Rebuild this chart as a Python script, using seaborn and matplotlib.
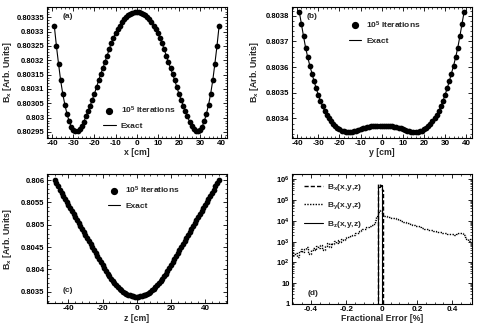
import numpy as np
import pandas as pd
import matplotlib
matplotlib.use("Agg")
import matplotlib.pyplot as plt
import seaborn as sns
from matplotlib.lines import Line2D
from matplotlib.ticker import MultipleLocator, FuncFormatter, LogLocator, NullFormatter

# ------------------------------------------------------------
# Data (curves are symmetric, so only
# the half >= 0 is listed and then mirrored)
# ------------------------------------------------------------
pos_ab = list(range(0, 40))          # cm
bx_scan_x = [0.803368, 0.803367, 0.803365, 0.803362, 0.803358, 0.803351, 0.803343,
             0.803333, 0.803321, 0.803309, 0.803295, 0.803279, 0.803260, 0.803239,
             0.803216, 0.803195, 0.803172, 0.803153, 0.803130, 0.803107, 0.803083,
             0.803063, 0.803042, 0.803024, 0.803005, 0.802986, 0.802970, 0.802959,
             0.802953, 0.802952, 0.802957, 0.802969, 0.802988, 0.803013, 0.803045,
             0.803083, 0.803130, 0.803188, 0.803250, 0.803320]
bx_scan_y = [0.803372, 0.803372, 0.803371, 0.803371, 0.803370, 0.803369, 0.803368,
             0.803366, 0.803364, 0.803362, 0.803359, 0.803356, 0.803353, 0.803350,
             0.803348, 0.803347, 0.803347, 0.803348, 0.803350, 0.803353, 0.803357,
             0.803362, 0.803370, 0.803379, 0.803390, 0.803401, 0.803414, 0.803430,
             0.803448, 0.803468, 0.803492, 0.803517, 0.803545, 0.803575, 0.803605,
             0.803638, 0.803675, 0.803720, 0.803768, 0.803815]
pos_c = list(range(0, 49))
bx_scan_z = [0.803390, 0.803392, 0.803397, 0.803406, 0.803418, 0.803434, 0.803453,
             0.803476, 0.803503, 0.803533, 0.803566, 0.803603, 0.803643, 0.803687,
             0.803735, 0.803786, 0.803841, 0.803899, 0.803960, 0.804025, 0.804090,
             0.804157, 0.804224, 0.804291, 0.804358, 0.804425, 0.804492, 0.804559,
             0.804626, 0.804693, 0.804760, 0.804827, 0.804894, 0.804961, 0.805028,
             0.805095, 0.805162, 0.805229, 0.805296, 0.805363, 0.805430, 0.805497,
             0.805564, 0.805631, 0.805710, 0.805785, 0.805860, 0.805935, 0.806010]

# fractional error histograms, bins of 0.01 % from -0.51 to 0.51
err_lo, err_hi, err_step = -0.51, 0.51, 0.01
by_counts = [380, 240, 300, 190, 350, 420, 310, 450, 560, 330, 260, 410, 520, 390,
             650, 480, 700, 520, 380, 610, 820, 560, 900, 760, 1050, 880, 1200,
             1000, 1300, 1250, 1500, 1700, 1650, 1950, 2100, 2200, 2500, 2700, 3100,
             3500, 3900, 4200, 4800, 5300, 5900, 6500, 7200, 11000, 17000, 26000,
             33000,
             19000, 17500, 16500, 15500, 15000, 14500, 13800, 13000, 12200, 11500,
             10800, 10000, 9300, 8600, 8000, 7500, 7000, 6500, 6100, 5700, 5400,
             5000, 4700, 4500, 4200, 4000, 3800, 3700, 3500, 3300, 3200, 3000, 2900,
             2850, 2700, 2600, 2500, 2450, 2350, 2300, 2250, 2200, 2300, 2500, 2700,
             2600, 2200, 1700, 1300, 1100, 1300]
bx_err_bins = [-0.015, -0.005, 0.005]
bx_err_counts = [580000, 500000, 320000]
bz_err_bins = [-0.015, -0.005]
bz_err_counts = [450000, 550000]


def mirror(pos, vals):
    xs = [-p for p in reversed(pos[1:])] + list(pos)
    ys = list(reversed(vals[1:])) + list(vals)
    return pd.DataFrame({"pos": xs, "B": ys})


sns.set_theme(style="ticks")
plt.rcParams.update({
    "font.family": ["Liberation Sans", "DejaVu Sans"],
    "font.weight": "bold",
    "font.size": 6,
    "mathtext.default": "regular",
    "axes.linewidth": 0.8,
    "xtick.direction": "in",
    "ytick.direction": "in",
    "xtick.top": True,
    "ytick.right": True,
    "xtick.major.size": 3.2,
    "ytick.major.size": 3.2,
    "xtick.minor.size": 1.6,
    "ytick.minor.size": 1.6,
    "xtick.major.width": 0.6,
    "ytick.major.width": 0.6,
    "xtick.minor.width": 0.5,
    "ytick.minor.width": 0.5,
    "xtick.major.pad": 1.5,
    "ytick.major.pad": 1.5,
    "xtick.labelsize": 5.8,
    "ytick.labelsize": 5.5,
    "axes.labelsize": 6.3,
    "axes.labelweight": "bold",
})

fig = plt.figure(figsize=(4.89, 3.31), dpi=100)
W, H = 489.0, 331.0


def add_axes(left, top, right, bottom):
    return fig.add_axes([left / W, 1 - bottom / H, (right - left) / W, (bottom - top) / H])


ax_a = add_axes(46.7, 7.3, 226.7, 137.7)
ax_b = add_axes(291.7, 7.3, 471.7, 137.7)
ax_c = add_axes(46.7, 174.3, 226.7, 303.3)
ax_d = add_axes(291.7, 174.3, 471.7, 304.0)

gfmt = FuncFormatter(lambda v, p: "{:g}".format(round(v, 7)))


def style(ax, xmaj, xmin, ymaj=None, ymin=None):
    ax.xaxis.set_major_locator(MultipleLocator(xmaj))
    ax.xaxis.set_minor_locator(MultipleLocator(xmin))
    if ymaj is not None:
        ax.yaxis.set_major_locator(MultipleLocator(ymaj))
        ax.yaxis.set_minor_locator(MultipleLocator(ymin))
        ax.yaxis.set_major_formatter(gfmt)
    ax.xaxis.set_major_formatter(gfmt)
    ax.tick_params(which="both", top=True, right=True, colors="black")
    for sp in ax.spines.values():
        sp.set_visible(True)
        sp.set_color("black")


point_handles = [Line2D([], [], marker="o", ls="none", color="black", markersize=4.2),
                 Line2D([], [], color="black", lw=0.8)]
point_labels = ["10$^5$ Iterations", "Exact"]


def scan_panel(ax, pos, vals, xlabel, xlim, ylim, tag, tag_xy, leg_xy, ylabel_x):
    df = mirror(pos, vals)
    sns.lineplot(data=df, x="pos", y="B", color="black", lw=0.8,
                 estimator=None, ax=ax)
    sns.scatterplot(data=df, x="pos", y="B", color="black", s=17,
                    linewidth=0, ax=ax, zorder=3)
    ax.set_xlim(*xlim)
    ax.set_ylim(*ylim)
    ax.set_xlabel(xlabel, labelpad=1)
    ax.set_ylabel("B$_x$ [Arb. Units]")
    # label coordinate is the right edge of the rotated text
    ax.yaxis.set_label_coords(ylabel_x, 0.5)
    ax.text(tag_xy[0], tag_xy[1], tag, transform=ax.transAxes,
            ha="center", va="center", fontsize=6)
    ax.legend(point_handles, point_labels, loc="upper left",
              bbox_to_anchor=leg_xy, frameon=False, borderpad=0,
              borderaxespad=0, handlelength=1.5, handletextpad=0.6,
              labelspacing=0.75, fontsize=6)


scan_panel(ax_a, pos_ab, bx_scan_x, "x [cm]", (-42.6, 42.6), (0.80293, 0.803385),
           "(a)", (0.118, 0.926), (0.313, 0.252), -0.184)
style(ax_a, 10, 2, 0.00005, 0.00001)

scan_panel(ax_b, pos_ab, bx_scan_y, "y [cm]", (-42.6, 42.6), (0.803325, 0.803833),
           "(b)", (0.111, 0.928), (0.318, 0.906), -0.172)
style(ax_b, 10, 2, 0.0001, 0.00002)

scan_panel(ax_c, pos_c, bx_scan_z, "z [cm]", (-52.7, 52.7), (0.80324, 0.806128),
           "(c)", (0.12, 0.103), (0.34, 0.919), -0.182)
style(ax_c, 20, 4, 0.0005, 0.0001)

# ---- panel (d): fractional error histograms ----
edges = [round(v, 3) for v in np.arange(err_lo, err_hi + err_step / 2, err_step)]
centers = [round((a + b) / 2, 4) for a, b in zip(edges[:-1], edges[1:])]
df_by = pd.DataFrame({"err": centers, "n": by_counts})
df_bx = pd.DataFrame({"err": bx_err_bins, "n": bx_err_counts})
df_bz = pd.DataFrame({"err": bz_err_bins, "n": bz_err_counts})

sns.histplot(data=df_by, x="err", weights="n", bins=edges, element="step", fill=False,
             color="black", linestyle=(0, (1, 1)), linewidth=1.0, ax=ax_d)
sns.histplot(data=df_bx, x="err", weights="n", bins=edges, element="step",
             fill=False, color="black", linestyle=(0, (3, 1.5)), linewidth=1.0, ax=ax_d)
sns.histplot(data=df_bz, x="err", weights="n", bins=edges, element="step",
             fill=False, color="black", linestyle="-", linewidth=0.8, ax=ax_d)
ax_d.set_yscale("log")
ax_d.set_xlim(err_lo, err_hi)
ax_d.set_ylim(1, 1.74e6)
style(ax_d, 0.2, 0.05)
ax_d.yaxis.set_major_locator(LogLocator(base=10, numticks=10))
ax_d.yaxis.set_minor_locator(LogLocator(base=10, subs=np.arange(2, 10), numticks=20))
ax_d.yaxis.set_minor_formatter(NullFormatter())


def log_label(v, p):
    e = int(round(np.log10(v)))
    if e == 0:
        return "1"
    if e == 1:
        return "10"
    return "10$^{%d}$" % e


ax_d.yaxis.set_major_formatter(FuncFormatter(log_label))
ax_d.set_xlabel("Fractional Error [%]", labelpad=1)
ax_d.set_ylabel("")
ax_d.text(0.12, 0.082, "(d)", transform=ax_d.transAxes, ha="center", va="center", fontsize=6)
err_handles = [Line2D([], [], color="black", lw=1.0, ls=(0, (3, 1.5))),
               Line2D([], [], color="black", lw=1.0, ls=(0, (1, 1))),
               Line2D([], [], color="black", lw=0.8)]
err_labels = ["B$_x$(x,y,z)", "B$_y$(x,y,z)", "B$_z$(x,y,z)"]
ax_d.legend(err_handles, err_labels, loc="upper left", bbox_to_anchor=(0.07, 0.944),
            frameon=False, borderpad=0, borderaxespad=0, handlelength=2.3,
            handletextpad=0.45, labelspacing=0.95, fontsize=6)

fig.savefig("out.png", dpi=100)
